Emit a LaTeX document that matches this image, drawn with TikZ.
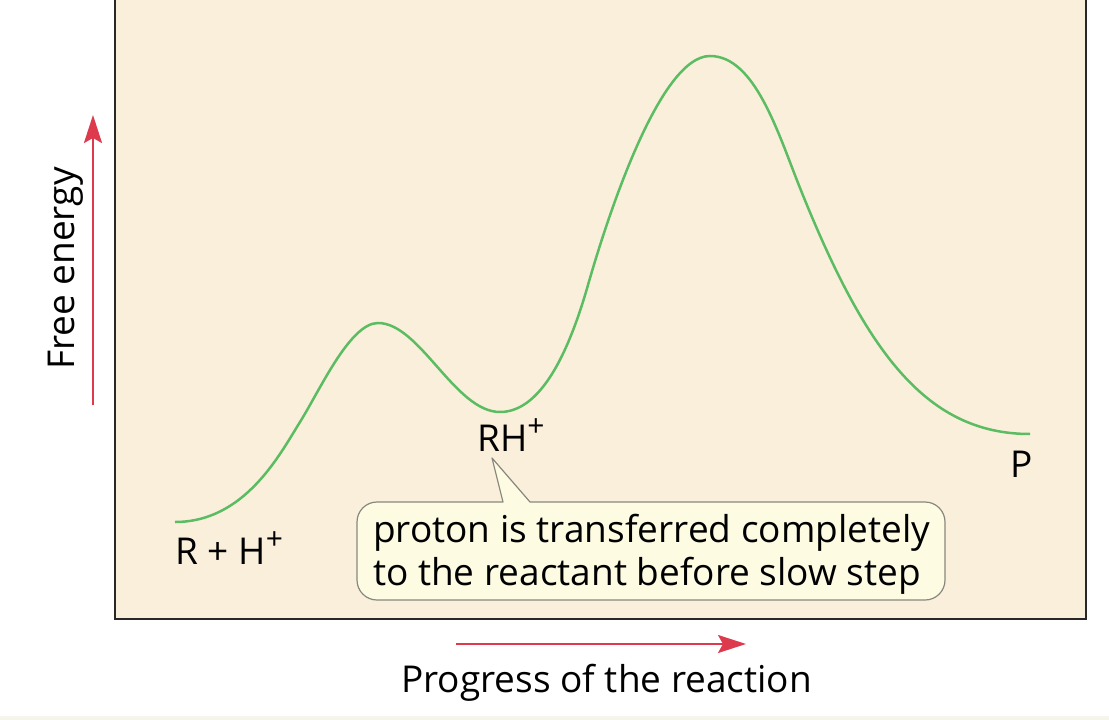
\documentclass[tikz,border=0pt]{standalone}
\usepackage{fontspec}
\setmainfont{Open Sans}
\usetikzlibrary{arrows.meta}
\definecolor{bgbeige}{RGB}{250,239,218}
\definecolor{framecol}{RGB}{40,40,40}
\definecolor{curvegreen}{RGB}{92,188,100}
\definecolor{axisred}{RGB}{222,58,78}
\definecolor{calloutfill}{RGB}{253,251,226}
\definecolor{calloutline}{RGB}{135,135,125}
\definecolor{stripcol}{RGB}{245,245,236}
\newcommand{\supplus}{\raisebox{0.40em}{\fontsize{30}{30}\selectfont +}}
\begin{document}
\begin{tikzpicture}[x=1pt,y=-1pt,
  lbl/.style={font=\fontsize{37}{43}\selectfont, inner sep=0pt, anchor=base west, text=black},
  axisarrow/.style={draw=axisred, line width=2pt, -{Stealth[length=28pt,width=18pt,inset=5pt]}},
  energycurve/.style={draw=curvegreen, line width=2.5pt},
  calloutshape/.style={draw=calloutline, fill=calloutfill, line width=1.2pt, line join=round}]
\useasboundingbox (0,0) rectangle (1109,720);
\fill[white] (0,0) rectangle (1109,720);
\fill[stripcol] (0,716) rectangle (1109,720);
% plot frame
\draw[framecol, fill=bgbeige, line width=2.5pt] (115,-10) rectangle (1086,619);
% energy profile
\draw[energycurve] (175,522) .. controls (245,522) and (280,454) .. (300,422)
  .. controls (320,390) and (350,323) .. (378,323)
  .. controls (420,323) and (455,412) .. (500,412)
  .. controls (540,412) and (568,355) .. (588,285)
  .. controls (608,215) and (660,56) .. (710,56)
  .. controls (755,56) and (778,133) .. (800,188)
  .. controls (865,350) and (925,434) .. (1030,434);
% labels
\node[lbl] (rh) at (175,564) {R + H\supplus};
\node[lbl] (rhplus) at (477,451) {RH\supplus};
\node[lbl] (prod) at (1010,477) {P};
% callout
\path[calloutshape] (503,502) -- (377,502) arc[start angle=270, end angle=180, radius=20]
  -- (357,580) arc[start angle=180, end angle=90, radius=20]
  -- (925,600) arc[start angle=90, end angle=0, radius=20]
  -- (945,522) arc[start angle=0, end angle=-90, radius=20]
  -- (530,502) -- (492,458) -- cycle;
\node[lbl, align=left] (note) at (373,585) {proton is transferred completely\\to the reactant before slow step};
% axes
\coordinate (ybot) at (93,405);
\coordinate (ytop) at (93,115);
\coordinate (xleft) at (456,644);
\coordinate (xright) at (746,644);
\draw[axisarrow] (ybot) -- (ytop);
\draw[axisarrow] (xleft) -- (xright);
\node[lbl, rotate=90] (ylab) at (74,370) {Free energy};
\node[lbl] (xlab) at (401,692) {Progress of the reaction};
\end{tikzpicture}
\end{document}
